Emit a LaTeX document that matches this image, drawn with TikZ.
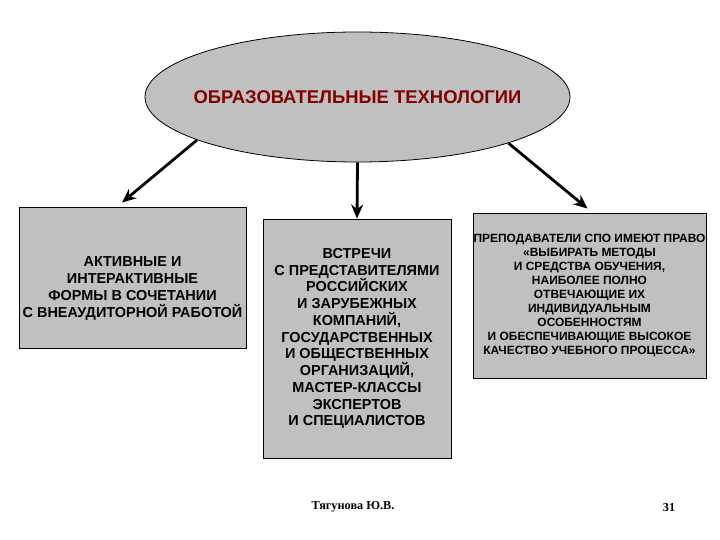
\documentclass[tikz,border=0pt]{standalone}
\usepackage{fontspec}
\setmainfont{Liberation Sans}
\newfontfamily\footserif{Liberation Serif}
\definecolor{Tcolor1}{RGB}{128,0,0}
\definecolor{Tgris}{RGB}{192,192,192}
\usetikzlibrary{calc, arrows.meta, shapes.geometric}

\begin{document}
\begin{tikzpicture}[
  x=1bp, y=-1bp,
  font=\bfseries\fontsize{14.5}{16.8}\selectfont,
  oval/.style={draw, ellipse, fill=Tgris, minimum width=425bp,
               minimum height=130bp, inner sep=0pt, line width=0.8pt},
  card/.style={draw, fill=Tgris, inner sep=0pt, align=center, line width=0.9pt},
  txt/.style={align=center, inner sep=0pt},
  arr/.style={-{Stealth[length=14bp, width=12bp]}, line width=2.8bp},
  foot/.style={font=\footserif\bfseries\fontsize{12.3}{15}\selectfont}
]
\useasboundingbox (0,0) rectangle (720,540);

%% ——— Верх: овал ———
\node[oval, font=\bfseries\fontsize{18.5}{22}\selectfont, text=Tcolor1] (tech) at (357.5,97)
  {\makebox[0pt]{ОБРАЗОВАТЕЛЬНЫЕ ТЕХНОЛОГИИ}};

%% ——— Три блока ———
\node[card, minimum width=227bp, minimum height=141bp] (active) at (132.5,277.5) {};
\node[txt] (activetxt) at ($(active)+(0,11)$)
  {АКТИВНЫЕ И\\ИНТЕРАКТИВНЫЕ\\ФОРМЫ В СОЧЕТАНИИ\\С ВНЕАУДИТОРНОЙ РАБОТОЙ};

\node[card, minimum width=188bp, minimum height=239bp] (meet) at (357,338.5)
  {ВСТРЕЧИ\\С ПРЕДСТАВИТЕЛЯМИ\\РОССИЙСКИХ\\И ЗАРУБЕЖНЫХ\\КОМПАНИЙ,\\
   ГОСУДАРСТВЕННЫХ\\И ОБЩЕСТВЕННЫХ\\ОРГАНИЗАЦИЙ,\\МАСТЕР-КЛАССЫ\\
   ЭКСПЕРТОВ\\И СПЕЦИАЛИСТОВ};

\node[card, minimum width=233bp, minimum height=165bp,
      font=\bfseries\fontsize{12}{14.1}\selectfont] (teach) at (589.5,295.5)
  {ПРЕПОДАВАТЕЛИ СПО ИМЕЮТ ПРАВО\\«ВЫБИРАТЬ МЕТОДЫ\\И СРЕДСТВА ОБУЧЕНИЯ,\\
   НАИБОЛЕЕ ПОЛНО\\ОТВЕЧАЮЩИЕ ИХ\\ИНДИВИДУАЛЬНЫМ\\ОСОБЕННОСТЯМ\\
   И ОБЕСПЕЧИВАЮЩИЕ ВЫСОКОЕ\\КАЧЕСТВО УЧЕБНОГО ПРОЦЕССА»};

%% Овал → блоки
\draw[arr] (tech.195) -- ($(active.north)+(-10.5,-4)$);
\draw[arr] (tech.south) -- (meet.north);
\draw[arr] (tech.343.4) -- ($(teach.north)+(-2,-4)$);

%% ——— Подвал ———
\node[foot] (author) at (353,507) {Тягунова Ю.В.};
\node[foot] (page) at (669,507) {31};

\end{tikzpicture}
\end{document}
